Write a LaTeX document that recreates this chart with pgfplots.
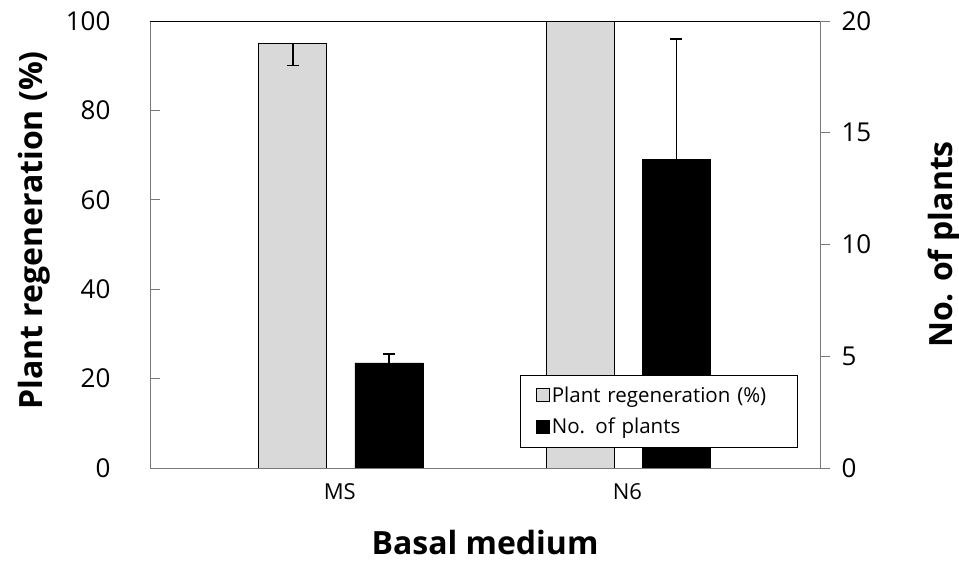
\documentclass[border=0pt]{standalone}
\usepackage{pgfplots}
\pgfplotsset{compat=1.18}
\usepackage{fontspec}
\setmainfont{Open Sans}
\definecolor{bargray}{RGB}{217,217,217}
\definecolor{axgray}{RGB}{120,120,120}
\begin{document}
\begin{tikzpicture}
\path[use as bounding box] (-150pt,-94pt) rectangle (809pt,468pt);
\pgfplotsset{
  base/.style={
    at={(0pt,0pt)}, anchor=south west,
    scale only axis, width=670pt, height=447pt,
    xmin=-0.66, xmax=1.67,
    ybar, bar width=68pt,
    /pgf/number format/assume math mode=true,
    tick label style={font=\fontsize{26}{30}\selectfont},
    label style={font=\fontsize{32}{36}\selectfont\bfseries},
    major tick length=10pt,
  }
}
\begin{axis}[base,
  ymin=0, ymax=100, ytick={0,20,...,100},
  ytick pos=left, tick align=inside,
  axis line style={axgray, line width=0.8pt},
  y tick style={axgray, line width=0.8pt},
  xtick={0,1}, xticklabels={MS,N6},
  x tick style={draw=none},
  xticklabel style={font=\fontsize{22}{26}\selectfont, yshift=-12pt},
  yticklabel style={xshift=-36pt},
  xlabel={Basal medium},
  xlabel style={yshift=-24pt},
  ylabel={Plant regeneration (\%)},
  ylabel style={yshift=9pt, xshift=14pt},
]
\addplot[fill=bargray, draw=black, line width=0.7pt, bar shift=-47pt,
  error bars/.cd, y dir=minus, y explicit,
  error bar style={black, line width=1.5pt},
  error mark options={rotate=90, mark size=6pt, line width=1.5pt, black}]
  coordinates {(0,95.1) -= (0,5.1)};
\addplot[fill=bargray, draw=black, line width=0.7pt, bar shift=-47pt]
  coordinates {(1,100)};
\draw[black, line width=0.9pt] (rel axis cs:0,1) -- (rel axis cs:1,1);
\draw[black, line width=0.9pt] (rel axis cs:0,0) -- (rel axis cs:1,0);
\end{axis}
\begin{axis}[base,
  ymin=0, ymax=20, ytick={0,5,...,20},
  axis y line*=right, axis x line=none,
  tick align=outside,
  axis line style={axgray, line width=0.8pt},
  y tick style={axgray, line width=0.8pt},
  yticklabel style={xshift=8pt},
  ylabel={No. of plants},
  ylabel style={yshift=-50pt},
  legend style={at={(0.552,0.045)}, anchor=south west, draw=black, line width=0.8pt,
    font=\fontsize{20.5}{25}\selectfont, inner xsep=16pt, inner ysep=10pt,
    row sep=10pt, text width=228pt},
  legend cell align=left,
  legend image code/.code={\draw[#1, line width=0.6pt] (0pt,-6pt) rectangle (13pt,7pt);},
]
\addlegendimage{fill=bargray, draw=black}
\addlegendentry{Plant regeneration (\%)}
\addlegendimage{fill=black, draw=black}
\addlegendentry{No. of  plants}
\addplot[forget plot, fill=black, draw=black, bar shift=49pt,
  error bars/.cd, y dir=plus, y explicit,
  error bar style={black, line width=1.5pt},
  error mark options={rotate=90, mark size=6pt, line width=1.5pt, black}]
  coordinates {(0,4.7) += (0,0.4) (1,13.8) += (0,5.4)};
\end{axis}
\end{tikzpicture}
\end{document}
